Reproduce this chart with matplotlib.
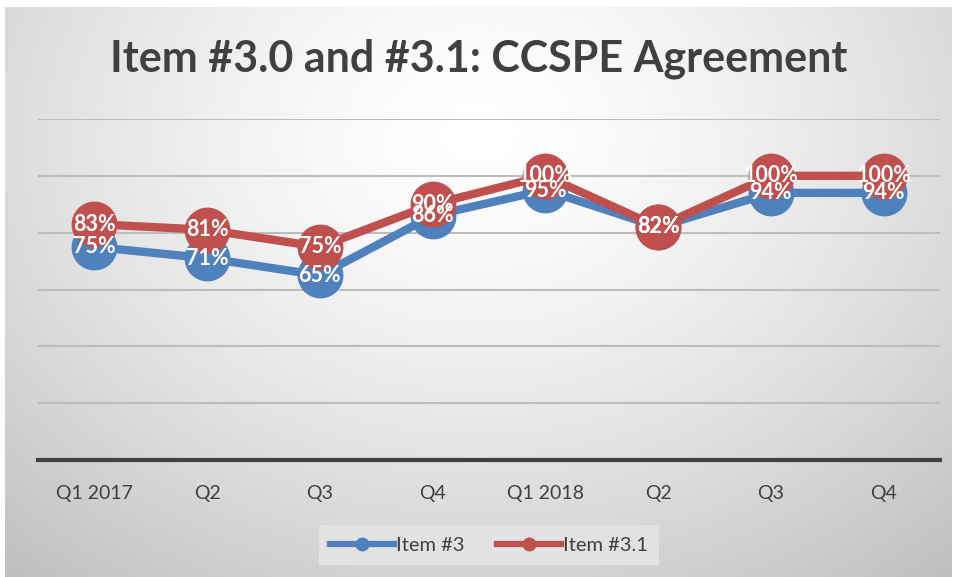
import numpy as np
import matplotlib.pyplot as plt
from matplotlib.lines import Line2D

quarters = ['Q1 2017', 'Q2', 'Q3', 'Q4', 'Q1 2018', 'Q2', 'Q3', 'Q4']
item3 = [75, 71, 65, 86, 95, 82, 94, 94]
item31 = [83, 81, 75, 90, 100, 82, 100, 100]

blue = '#4F81BD'
red = '#C0504D'
txt = '#404040'

plt.rcParams['font.family'] = ['Lato', 'DejaVu Sans']

fig = plt.figure(figsize=(9.58, 5.77), dpi=100)

# background with radial gradient
bg = fig.add_axes([5 / 958, 0, 947 / 958, 570 / 577])
yy, xx = np.mgrid[0:1:300j, 0:1:500j]
d = np.sqrt(((xx - 0.5) / 0.72) ** 2 + ((yy - 0.78) / 0.95) ** 2)
shade = 1.0 - 0.23 * np.clip(d, 0, 1.2) ** 1.4
bg.imshow(shade, cmap='gray', vmin=0, vmax=1, aspect='auto', origin='lower',
          extent=[0, 1, 0, 1], interpolation='bilinear')
bg.set_axis_off()

ax = fig.add_axes([38 / 958, (577 - 460) / 577, 902 / 958, 341 / 577])
ax.patch.set_alpha(0)
x = np.arange(len(quarters))

ax.plot(x, item3, color=blue, lw=6, marker='o', ms=32, zorder=3)
ax.plot(x, item31, color=red, lw=6, marker='o', ms=32, zorder=4)

for xi, v in zip(x, item3):
    ax.text(xi, v, f'{v}%', color='white', fontsize=15.5, fontweight='bold',
            ha='center', va='center', zorder=5)
for xi, v in zip(x, item31):
    ax.text(xi, v, f'{v}%', color='white', fontsize=15.5, fontweight='bold',
            ha='center', va='center', zorder=6)

ax.set_xlim(-0.5, len(quarters) - 0.5)
ax.set_ylim(0, 120)
ax.set_yticks([20, 40, 60, 80, 100, 120])
ax.set_yticklabels([])
ax.tick_params(axis='y', length=0)
ax.grid(axis='y', color='#bdbdbd', lw=1.5)
ax.set_axisbelow(True)
ax.set_xticks(x)
ax.set_xticklabels(quarters, fontsize=14, color=txt)
ax.tick_params(axis='x', length=0, pad=18)
for s in ['top', 'right', 'left']:
    ax.spines[s].set_visible(False)
ax.spines['bottom'].set_color('#404040')
ax.spines['bottom'].set_linewidth(3)

fig.text(0.5, 0.898, 'Item #3.0 and #3.1: CCSPE Agreement', ha='center',
         va='center', fontsize=31, fontweight='bold', color=txt)

handles = [Line2D([], [], color=blue, lw=4.5, marker='o', ms=9),
           Line2D([], [], color=red, lw=4.5, marker='o', ms=9)]
leg = fig.legend(handles, ['Item #3', 'Item #3.1'], loc='center',
                 bbox_to_anchor=(489 / 958, (577 - 545) / 577), ncol=2,
                 fontsize=14.5, frameon=True, fancybox=False, handlelength=3.2,
                 handletextpad=0.1, columnspacing=1.6, borderpad=0.55)
leg.get_frame().set_facecolor('#e2e2e2')
leg.get_frame().set_edgecolor('none')
leg.get_frame().set_alpha(1)
for t in leg.get_texts():
    t.set_color(txt)

fig.savefig('out.png', dpi=100)
